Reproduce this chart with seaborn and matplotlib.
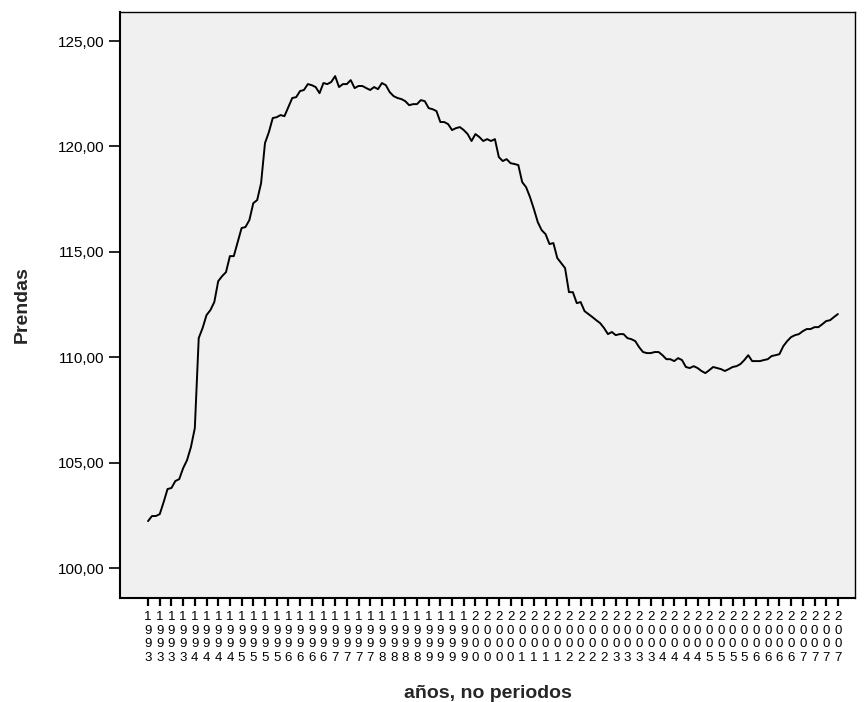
import matplotlib
matplotlib.use("Agg")
import matplotlib.pyplot as plt
import numpy as np
import pandas as pd
import seaborn as sns

# Monthly clothing index ("Prendas"), January 1993 to October 2007
years = list(range(1993, 2008))
first_month = "1993-01"
n_months = 178

prendas = [
    102.23, 102.47, 102.47, 102.56, 103.13, 103.75, 103.80, 104.13, 104.22, 104.74, 105.12, 105.74,
    106.64, 110.91, 111.39, 112.00, 112.24, 112.62, 113.61, 113.85, 114.04, 114.80, 114.80, 115.46,
    116.13, 116.18, 116.51, 117.31, 117.46, 118.26, 120.16, 120.68, 121.35, 121.39, 121.49, 121.44,
    121.87, 122.30, 122.34, 122.63, 122.68, 122.96, 122.91, 122.82, 122.53, 123.01, 122.96, 123.06,
    123.34, 122.82, 122.96, 122.96, 123.15, 122.77, 122.87, 122.87, 122.77, 122.68, 122.82, 122.72,
    123.01, 122.91, 122.58, 122.39, 122.30, 122.25, 122.15, 121.96, 122.01, 122.01, 122.20, 122.15,
    121.82, 121.77, 121.68, 121.16, 121.16, 121.06, 120.78, 120.87, 120.92, 120.78, 120.59, 120.26,
    120.59, 120.45, 120.26, 120.35, 120.26, 120.35, 119.50, 119.31, 119.40, 119.21, 119.17, 119.12,
    118.31, 118.07, 117.60, 117.03, 116.41, 116.03, 115.84, 115.37, 115.42, 114.71, 114.47, 114.23,
    113.09, 113.09, 112.57, 112.62, 112.19, 112.05, 111.91, 111.76, 111.62, 111.39, 111.10, 111.20,
    111.05, 111.10, 111.10, 110.91, 110.86, 110.77, 110.48, 110.25, 110.20, 110.20, 110.25, 110.25,
    110.10, 109.91, 109.91, 109.82, 109.96, 109.87, 109.54, 109.49, 109.58, 109.49, 109.35, 109.25,
    109.39, 109.54, 109.49, 109.44, 109.35, 109.44, 109.54, 109.58, 109.68, 109.87, 110.10, 109.82,
    109.82, 109.82, 109.87, 109.91, 110.06, 110.10, 110.15, 110.53, 110.77, 110.96, 111.05, 111.10,
    111.24, 111.34, 111.34, 111.43, 111.43, 111.57, 111.72, 111.76, 111.91, 112.05,
]

y_ticks = [100, 105, 110, 115, 120, 125]

dates = pd.period_range(first_month, periods=n_months, freq="M")
df = pd.DataFrame({"pos": np.arange(n_months), "Prendas": prendas,
                   "year": dates.year})

sns.set_style("white")
plt.rcParams["font.family"] = ["Liberation Sans", "DejaVu Sans"]

fig = plt.figure(figsize=(8.67, 7.02), dpi=100)
ax = fig.add_axes([0.1384, 0.1481, 0.8478, 0.8348])
ax.set_facecolor("#F0F0F0")

sns.lineplot(data=df, x="pos", y="Prendas", color="black", linewidth=1.4, ax=ax)

# one tick per quarter, labelled with the year written top to bottom
tick_pos = df["pos"].iloc[::3].to_numpy()
tick_lab = ["\n".join(str(y)) for y in df["year"].iloc[::3]]
ax.set_xticks(tick_pos)
ax.set_xticklabels(tick_lab, fontsize=9.5, linespacing=1.22)
ax.set_xlim(-7.2, 181.4)

ax.set_yticks(y_ticks)
ax.set_yticklabels([f"{v:.2f}".replace(".", ",") for v in y_ticks], fontsize=11)
ax.set_ylim(98.58, 126.38)

ax.tick_params(axis="x", direction="out", length=6, width=1.6, pad=3, colors="black")
ax.tick_params(axis="y", direction="out", length=8, width=1.2, pad=3, colors="black")
ax.tick_params(bottom=True, left=True)

for side in ["left", "bottom"]:
    ax.spines[side].set_linewidth(1.5)
    ax.spines[side].set_color("black")
for side in ["top", "right"]:
    ax.spines[side].set_linewidth(1.0)
    ax.spines[side].set_color("black")

ax.set_xlabel("años, no periodos", fontsize=14, fontweight="bold")
ax.set_ylabel("Prendas", fontsize=14, fontweight="bold")
ax.xaxis.set_label_coords(0.5, -0.148)
ax.yaxis.set_label_coords(-0.122, 0.5)

fig.savefig("out.png", dpi=100, facecolor="white")
